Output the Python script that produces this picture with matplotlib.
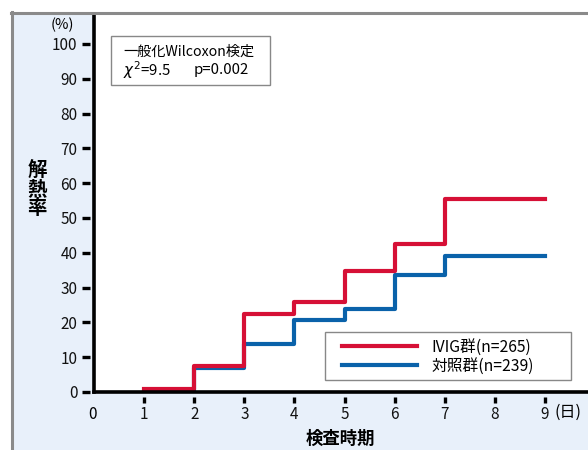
import matplotlib.pyplot as plt
from matplotlib.patches import Rectangle
from matplotlib.lines import Line2D

plt.rcParams['font.family'] = ['Noto Sans CJK JP', 'DejaVu Sans']

# Fever resolution rate (%) by test day
days_ivig = [1, 2, 3, 4, 5, 6, 7, 9]
rate_ivig = [1.0, 7.5, 22.3, 26.0, 34.8, 42.6, 55.5, 55.5]
days_ctrl = [1, 2, 3, 4, 5, 6, 7, 9]
rate_ctrl = [0.0, 7.0, 13.8, 20.8, 23.8, 33.6, 39.1, 39.1]

label_ivig = "IVIG群(n=265)"
label_ctrl = "対照群(n=239)"
yticks = [0, 10, 20, 30, 40, 50, 60, 70, 80, 90, 100]
xticks = [1, 2, 3, 4, 5, 6, 7, 8, 9]

RED = "#D61036"
BLUE = "#0A62AA"
BG = "#E8F0FA"
W, H = 588, 450
XPX = 50.1   # pixels per day
YPX = 3.48   # pixels per percent
FS = 11

fig = plt.figure(figsize=(5.88, 4.5), dpi=100)
fig.patch.set_facecolor("white")

# light blue panel with gray border on left and top
fig.patches.append(Rectangle((12 / W, 0), 1 - 12 / W, 1 - 13 / H,
                             transform=fig.transFigure, facecolor=BG,
                             edgecolor="none", zorder=-1))
fig.lines.append(Line2D([12 / W, 12 / W], [0, 1 - 12 / H], transform=fig.transFigure,
                        color="#8a8a8a", lw=2.2))
fig.lines.append(Line2D([11 / W, 1], [1 - 13 / H, 1 - 13 / H], transform=fig.transFigure,
                        color="#8a8a8a", lw=2.2))

ax = fig.add_axes([94 / W, (H - 392) / H, (W - 94) / W, (392 - 14) / H])
ax.set_facecolor("white")
ax.set_xlim(0, 9.86)
ax.set_ylim(0, 108.6)

ax.step(days_ctrl, rate_ctrl, where="post", color=BLUE, lw=3, zorder=3,
        label=label_ctrl)
ax.step(days_ivig, rate_ivig, where="post", color=RED, lw=3, zorder=4,
        label=label_ivig)

for s in ["top", "right"]:
    ax.spines[s].set_visible(False)
for s in ["left", "bottom"]:
    ax.spines[s].set_linewidth(2.6)
    ax.spines[s].set_color("black")
    ax.spines[s].set_zorder(6)

# tick marks drawn as short dashes set off from the spines
ax.set_yticks(yticks)
ax.set_yticklabels([str(v) for v in yticks], fontsize=FS)
ax.set_xticks(xticks)
ax.set_xticklabels([str(v) for v in xticks], fontsize=FS)
ax.tick_params(axis="both", length=0, labelcolor="#111111")
ax.tick_params(axis="y", pad=12)
ax.tick_params(axis="x", pad=10)
for v in yticks:
    ax.plot([-12 / XPX, -4 / XPX], [v, v], color="black", lw=2.4,
            clip_on=False, solid_capstyle="butt", zorder=7)
for v in xticks:
    ax.plot([v, v], [-5 / YPX, -11 / YPX], color="black", lw=2.4,
            clip_on=False, solid_capstyle="butt", zorder=7)

ax.text(-1 / XPX, -22 / YPX, "0", ha="center", va="center", fontsize=FS,
        clip_on=False)
ax.text(9.2, -12 / YPX, "(日)", ha="left", va="top", fontsize=FS + 0.5,
        clip_on=False)
ax.text(-0.63, 103.5, "(%)", ha="center", va="bottom", fontsize=FS - 0.5,
        clip_on=False)

fig.text(37 / W, 1 - 190 / H, "解\n熱\n率", ha="center", va="center",
         fontsize=14, fontweight="bold", linespacing=0.95)
fig.text(340 / W, 1 - 439 / H, "検査時期", ha="center", va="center",
         fontsize=12.5, fontweight="bold")

# test result box
fig.patches.append(Rectangle((111 / W, 1 - 85 / H), 159 / W, 49 / H,
                             transform=fig.transFigure, facecolor="white",
                             edgecolor="#888888", lw=1.0, zorder=8))
fig.text(123 / W, 1 - 52 / H, "一般化Wilcoxon検定", ha="left", va="center",
         fontsize=10.2, zorder=9)
fig.text(123 / W, 1 - 70 / H, r"$\mathit{\chi}^2$=9.5", ha="left",
         va="center", fontsize=10.8, zorder=9)
fig.text(249 / W, 1 - 70 / H, "p=0.002", ha="right",
         va="center", fontsize=10.8, zorder=9)

# legend box
fig.patches.append(Rectangle((325 / W, 1 - 380 / H), 246 / W, 48 / H,
                             transform=fig.transFigure, facecolor="white",
                             edgecolor="#888888", lw=1.0, zorder=8))
h_blue, h_red = ax.lines[0], ax.lines[1]
leg = fig.legend(handles=[h_red, h_blue], labels=[label_ivig, label_ctrl],
                 loc="center left", bbox_to_anchor=(342 / W, 1 - 356.5 / H),
                 bbox_transform=fig.transFigure, fontsize=FS + 0.3, frameon=False,
                 handlelength=4.8, handletextpad=0.9, borderpad=0,
                 labelspacing=0.12, borderaxespad=0)
leg.set_zorder(9)

fig.savefig("out.png", dpi=100)
